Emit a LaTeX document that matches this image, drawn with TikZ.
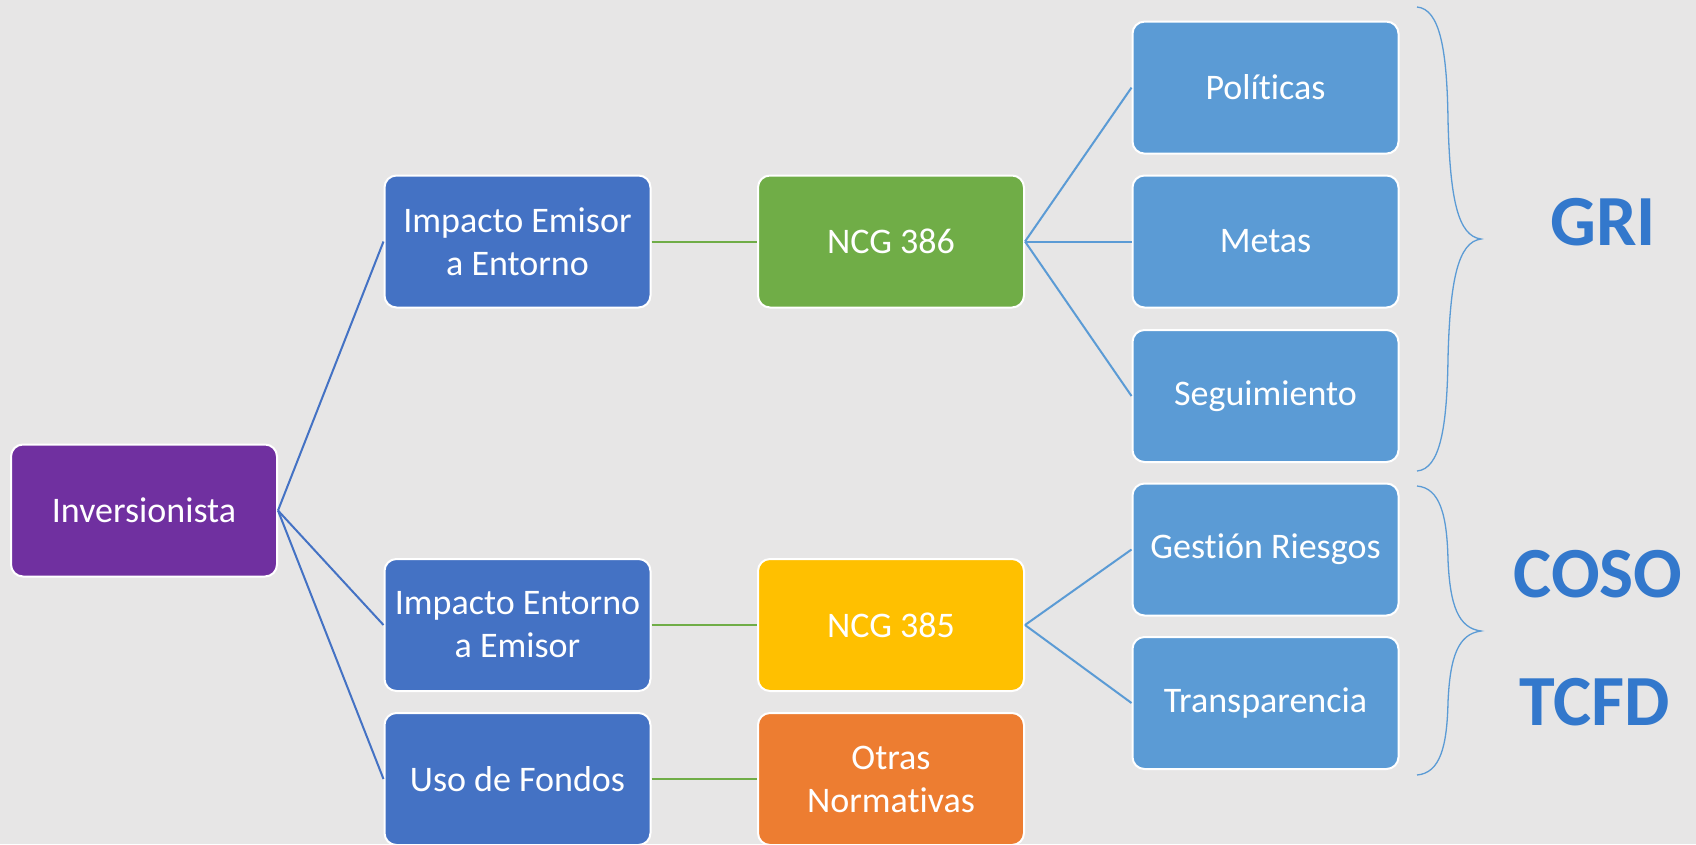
\documentclass[tikz,border=0pt]{standalone}
\usepackage{fontspec}
\setmainfont{Carlito}[Ligatures={NoCommon,NoRare,NoContextual}]
\definecolor{bgc}{HTML}{E7E6E6}
\definecolor{cpurple}{HTML}{7030A0}
\definecolor{cblue}{HTML}{4472C4}
\definecolor{cgreen}{HTML}{70AD47}
\definecolor{cyellow}{HTML}{FFC000}
\definecolor{corange}{HTML}{ED7D31}
\definecolor{clight}{HTML}{5B9BD5}
\definecolor{ctitle}{HTML}{3378CC}
\begin{document}
\begin{tikzpicture}[x=1pt,y=-1pt,
  box/.style={draw=white, line width=2pt, rounded corners=12pt,
    minimum width=266pt, minimum height=132pt, text=white,
    font=\fontsize{36}{43}\selectfont, align=center, inner sep=2pt},
  lkblue/.style={draw=cblue, line width=2pt},
  lkgreen/.style={draw=cgreen, line width=2pt},
  lklight/.style={draw=clight, line width=2pt},
  bracestyle/.style={draw=clight, line width=1.3pt},
  title/.style={text=ctitle, font=\fontsize{72}{76}\selectfont\bfseries, inner sep=0pt}]
\fill[bgc] (0,0) rectangle (1696,844);
\useasboundingbox (0,0) rectangle (1696,844);

\node[box, fill=cpurple] (inv) at (144,510.5) {Inversionista};
\node[box, fill=cblue] (ie) at (517.5,241.5) {Impacto Emisor\\a Entorno};
\node[box, fill=cgreen] (n386) at (891,241.5) {NCG 386};
\node[box, fill=clight] (pol) at (1265.5,87.6) {Políticas};
\node[box, fill=clight] (met) at (1265.5,241.5) {Metas};
\node[box, fill=clight] (seg) at (1265.5,396) {Seguimiento};
\node[box, fill=clight] (ges) at (1265.5,549.5) {Gestión Riesgos};
\node[box, fill=clight] (tra) at (1265.5,703) {Transparencia};
\node[box, fill=cblue] (iee) at (517.5,625) {Impacto Entorno\\a Emisor};
\node[box, fill=cyellow] (n385) at (891,625) {NCG 385};
\node[box, fill=cblue] (uso) at (517.5,779) {Uso de Fondos};
\node[box, fill=corange] (otr) at (891,779) {Otras\\Normativas};

\draw[lkblue] (inv.east) -- (ie.west);
\draw[lkblue] (inv.east) -- (iee.west);
\draw[lkblue] (inv.east) -- (uso.west);
\draw[lkgreen] (ie.east) -- (n386.west);
\draw[lkgreen] (iee.east) -- (n385.west);
\draw[lkgreen] (uso.east) -- (otr.west);
\draw[lklight] (n386.east) -- (pol.west);
\draw[lklight] (n386.east) -- (met.west);
\draw[lklight] (n386.east) -- (seg.west);
\draw[lklight] (n385.east) -- (ges.west);
\draw[lklight] (n385.east) -- (tra.west);

% braces
\draw[bracestyle] (1417,7) .. controls (1440,9) and (1447,50) .. (1448,120)
  .. controls (1450,200) and (1458,236) .. (1481,239)
  .. controls (1458,242) and (1450,280) .. (1448,358)
  .. controls (1447,428) and (1440,469) .. (1417,471);
\draw[bracestyle] (1417,486) .. controls (1440,488) and (1447,515) .. (1448,560)
  .. controls (1450,605) and (1458,628) .. (1481,631)
  .. controls (1458,634) and (1450,657) .. (1448,702)
  .. controls (1447,747) and (1440,773) .. (1417,775);

\node[title] (gri) at (1603,222.5) {GRI};
\node[title] (coso) at (1598,574.5) {COSO};
\node[title] (tcfd) at (1594.5,702.5) {TCFD};
\end{tikzpicture}
\end{document}
